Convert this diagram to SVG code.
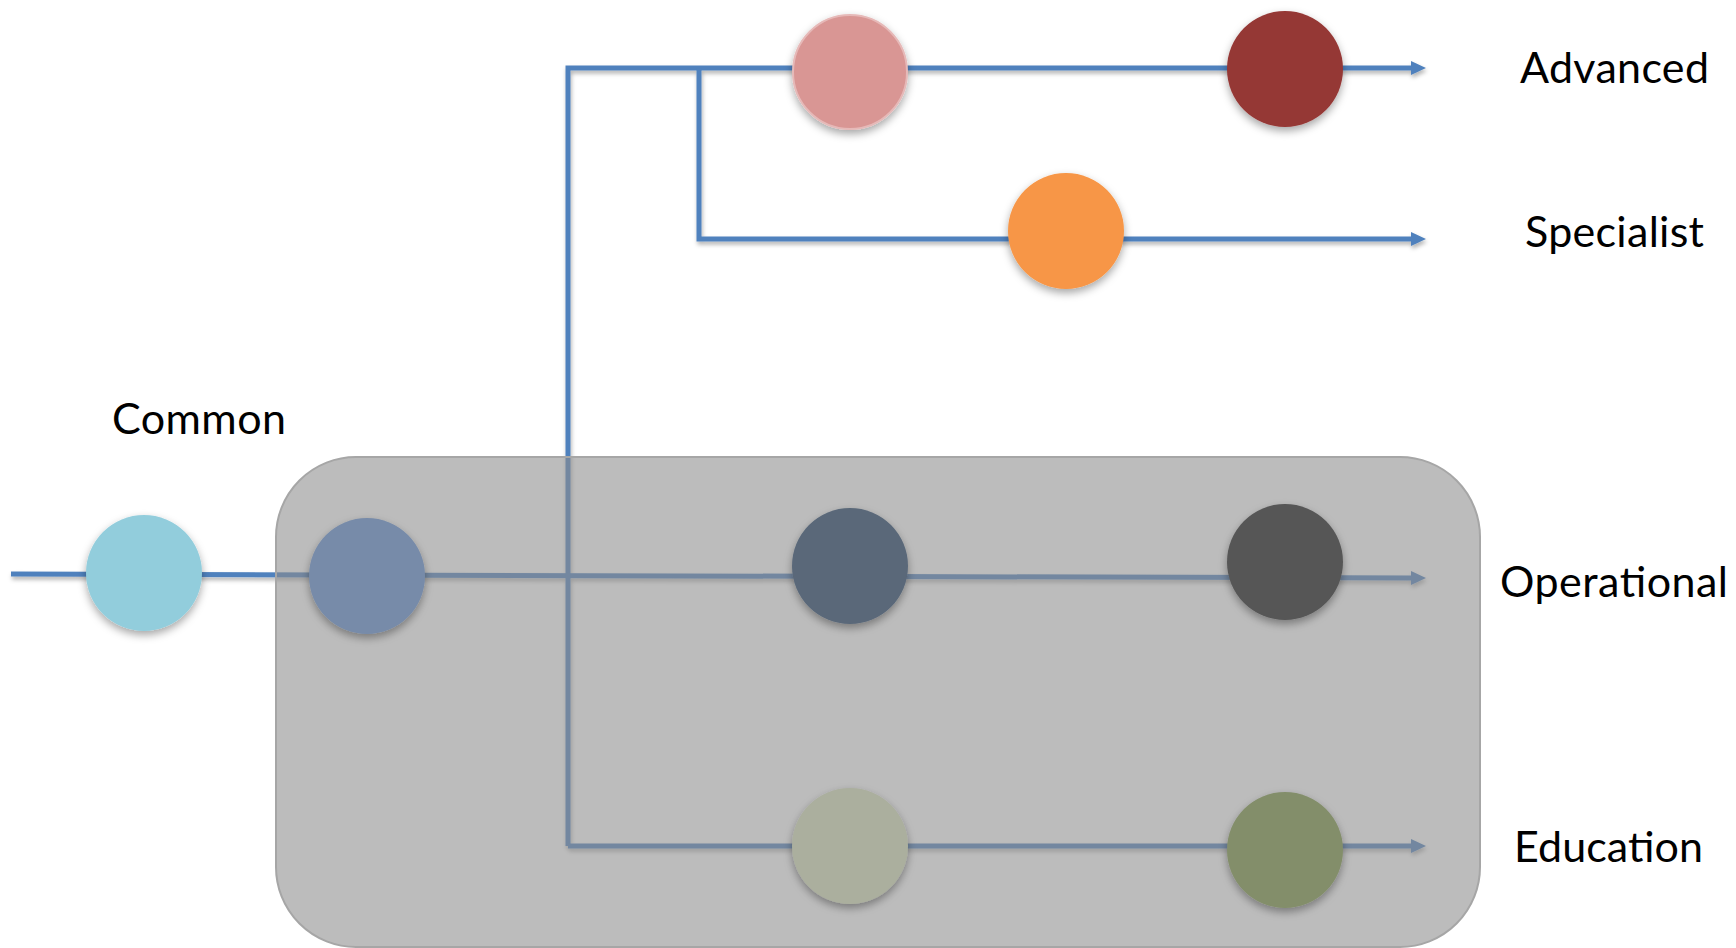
<svg xmlns="http://www.w3.org/2000/svg" width="1736" height="948" viewBox="0 0 1736 948">
  <style>
    .conn { fill: none; stroke: #4F81BD; stroke-width: 5; stroke-linejoin: miter; }
    .lbl { font-family: Lato, "Open Sans", "Liberation Sans", sans-serif; font-size: 43px; fill: #000000; }
    .node { filter: url(#shadow); }
  </style>
  <defs>
    <filter id="shadow" x="-30%" y="-30%" width="160%" height="170%">
      <feDropShadow dx="0" dy="4" stdDeviation="4" flood-color="#000000" flood-opacity="0.35"/>
    </filter>
    <filter id="lshadow" x="-5%" y="-5%" width="110%" height="110%">
      <feDropShadow dx="1" dy="3" stdDeviation="2" flood-color="#000000" flood-opacity="0.3"/>
    </filter>
    <marker id="arrow" markerUnits="userSpaceOnUse" markerWidth="16" markerHeight="16" refX="1" refY="8" orient="auto">
      <path d="M0,1 L15,8 L0,15 Z" fill="#4F81BD"/>
    </marker>
  </defs>

  <g id="connectors" filter="url(#lshadow)">
    <path class="conn" d="M11,574 L1412,578" marker-end="url(#arrow)"/>
    <path class="conn" d="M568,846 L568,68 L1412,68" marker-end="url(#arrow)"/>
    <path class="conn" d="M568,846 L1412,846" marker-end="url(#arrow)"/>
    <path class="conn" d="M699,68 L699,239 L1412,239" marker-end="url(#arrow)"/>
  </g>

  <g id="group-box">
    <rect x="276" y="457" width="1204" height="490" rx="80" ry="80" fill="rgb(140,140,140)" fill-opacity="0.585" stroke="#A6A6A6" stroke-width="2"/>
  </g>

  <g id="node-common" class="node"><circle cx="144" cy="573" r="58" fill="#92CDDC"/></g>
  <g id="node-base" class="node"><circle cx="367" cy="576" r="58" fill="#778BA9"/></g>
  <g id="node-op1" class="node"><circle cx="850" cy="566" r="58" fill="#5A6879"/></g>
  <g id="node-op2" class="node"><circle cx="1285" cy="562" r="58" fill="#575757"/></g>
  <g id="node-adv1" class="node"><circle cx="850" cy="72" r="57" fill="#D99694" stroke="#E6B9B8" stroke-width="2"/></g>
  <g id="node-adv2" class="node"><circle cx="1285" cy="69" r="58" fill="#953735"/></g>
  <g id="node-spec" class="node"><circle cx="1066" cy="231" r="58" fill="#F79646"/></g>
  <g id="node-edu1" class="node"><circle cx="850" cy="846" r="58" fill="#ABAF9E"/></g>
  <g id="node-edu2" class="node"><circle cx="1285" cy="850" r="58" fill="#838E6B"/></g>

  <g id="labels">
    <text class="lbl" x="112" y="434" textLength="174">Common</text>
    <text class="lbl" x="1520" y="83" textLength="189">Advanced</text>
    <text class="lbl" x="1525" y="247" textLength="179">Specialist</text>
    <text class="lbl" x="1500" y="597" textLength="228">Operational</text>
    <text class="lbl" x="1514" y="862" textLength="189">Education</text>
  </g>
</svg>
